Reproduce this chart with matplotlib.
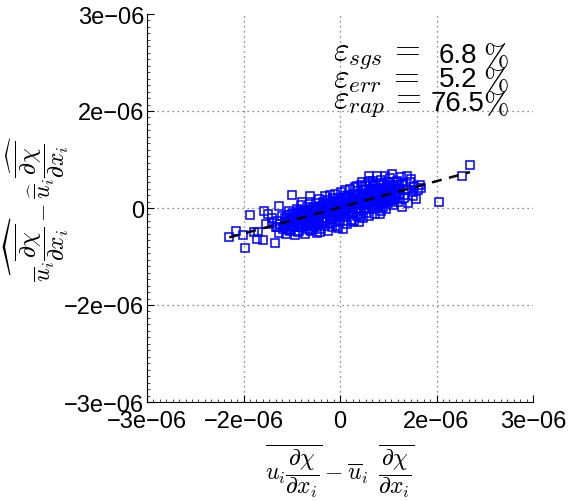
import numpy as np
import matplotlib.pyplot as plt
from matplotlib.ticker import FixedLocator, MultipleLocator

plt.rcParams['mathtext.fontset'] = 'cm'
plt.rcParams['font.family'] = ['Liberation Sans', 'DejaVu Sans']

# scatter values, in units of 1e-6
x_core = [-1.00, -0.98, -0.95, -0.93, -0.90, -0.88, -0.86, -0.84, -0.82, -0.80,
          -0.79, -0.77, -0.75, -0.74, -0.72, -0.70, -0.69, -0.67, -0.66, -0.64, -0.62, -0.61, -0.60,
          -0.59, -0.58, -0.56, -0.55, -0.54, -0.52, -0.51, -0.50, -0.48, -0.47, -0.46, -0.45, -0.44, -0.43, -0.42, -0.41,
          -0.40, -0.39, -0.38, -0.37, -0.36, -0.35, -0.34, -0.33, -0.32, -0.31, -0.30, -0.29, -0.28, -0.27, -0.26, -0.25, -0.24, -0.23, -0.22, -0.21,
          -0.20, -0.19, -0.18, -0.17, -0.16, -0.15, -0.14, -0.13, -0.12, -0.11, -0.10, -0.09, -0.08, -0.07, -0.06, -0.05, -0.04, -0.03, -0.02, -0.01,
          0.00, 0.01, 0.02, 0.03, 0.04, 0.05, 0.06, 0.07, 0.08, 0.09, 0.10, 0.11, 0.12, 0.13, 0.14, 0.15, 0.16, 0.17, 0.18, 0.19,
          0.20, 0.21, 0.22, 0.23, 0.24, 0.25, 0.26, 0.27, 0.28, 0.29, 0.30, 0.31, 0.32, 0.33, 0.34, 0.35, 0.36, 0.37, 0.38, 0.39,
          0.40, 0.41, 0.42, 0.43, 0.44, 0.45, 0.46, 0.47, 0.48, 0.49, 0.50, 0.51, 0.52, 0.53, 0.54, 0.55, 0.56, 0.57, 0.58, 0.59,
          0.60, 0.61, 0.62, 0.63, 0.64, 0.65, 0.66, 0.67, 0.68, 0.69, 0.70, 0.71, 0.72, 0.73, 0.74, 0.75, 0.76, 0.77, 0.78, 0.79,
          0.80, 0.82, 0.84, 0.86, 0.88, 0.90, 0.92, 0.94, 0.96, 0.98,
          1.00, 1.03, 1.06, 1.09, 1.12, 1.15, 1.18, 1.22, 1.25]
y_core = [-0.30, -0.20, -0.38, -0.25, -0.12, -0.33, -0.22, -0.40, -0.15, -0.28,
          -0.05, -0.35, -0.20, -0.10, -0.30, -0.42, -0.16, -0.02, -0.25, -0.36, -0.12, -0.20, 0.05,
          -0.30, -0.18, -0.08, -0.40, -0.25, 0.02, -0.14, -0.32, -0.05, -0.22, 0.10, -0.36, -0.12, -0.28, 0.00, -0.18,
          -0.08, -0.30, 0.08, -0.20, -0.02, -0.38, -0.12, 0.14, -0.25, -0.06, 0.03, -0.32, -0.15, 0.10, -0.22, -0.04, 0.18, -0.28, -0.10, 0.05,
          -0.18, 0.12, -0.35, -0.02, 0.20, -0.24, -0.08, 0.06, -0.30, 0.15, -0.14, 0.00, -0.22, 0.22, -0.05, 0.09, -0.28, -0.12, 0.16, 0.03,
          -0.20, 0.25, -0.06, 0.10, -0.32, 0.02, 0.18, -0.14, 0.28, -0.02, 0.12, -0.25, 0.06, 0.20, -0.10, 0.00, 0.30, -0.18, 0.14, 0.05,
          -0.08, 0.22, -0.20, 0.10, 0.32, -0.02, 0.16, -0.12, 0.26, 0.04, -0.22, 0.12, 0.36, -0.05, 0.20, 0.07, -0.15, 0.28, 0.00, 0.15,
          0.34, -0.08, 0.18, 0.05, 0.40, -0.12, 0.24, 0.10, 0.30, -0.02, 0.16, 0.42, 0.02, 0.22, -0.10, 0.35, 0.12, 0.27, 0.00, 0.19,
          0.38, 0.06, 0.25, -0.04, 0.44, 0.14, 0.30, 0.02, 0.20, 0.36, 0.10, 0.26, -0.02, 0.40, 0.17, 0.08, 0.32, 0.22, 0.46, 0.12,
          0.28, 0.05, 0.36, 0.18, 0.42, 0.10, 0.30, 0.22, 0.02, 0.38,
          0.16, 0.30, 0.08, 0.40, 0.24, 0.34, 0.14, 0.28, 0.36]

# denser points near the centre of the cloud
x_dense = [-0.85, -0.82, -0.79, -0.76, -0.73, -0.70, -0.67, -0.64, -0.61, -0.58, -0.55, -0.52, -0.49, -0.46, -0.43,
           -0.40, -0.37, -0.34, -0.31, -0.28, -0.25, -0.22, -0.19, -0.16, -0.13, -0.10, -0.07, -0.04, -0.01, 0.02,
           0.05, 0.08, 0.11, 0.14, 0.17, 0.20, 0.23, 0.26, 0.29, 0.32, 0.35, 0.38, 0.41, 0.44, 0.47,
           0.50, 0.53, 0.56, 0.59, 0.62, 0.65, 0.68, 0.71, 0.74, 0.77, 0.80, 0.83, 0.86, 0.89, 0.92]
y_dense_a = [-0.15, -0.32, -0.18, -0.26, -0.08, -0.21, -0.12, -0.29, -0.15, -0.06, -0.22, -0.10, -0.24, -0.03, -0.15,
             0.02, -0.18, -0.07, -0.01, -0.21, -0.02, -0.10, 0.06, -0.13, -0.04, 0.11, -0.08, 0.07, -0.12, 0.04,
             0.11, -0.03, 0.15, -0.06, 0.11, 0.04, 0.19, -0.01, 0.12, -0.02, 0.18, 0.07, 0.22, 0.05, 0.15,
             0.28, 0.05, 0.20, 0.12, 0.27, 0.06, 0.25, 0.17, 0.32, 0.15, 0.25, 0.12, 0.31, 0.25, 0.20]
y_dense_b = [-0.29, -0.11, -0.34, -0.17, -0.28, -0.10, -0.19, -0.04, -0.26, -0.14, -0.07, -0.26, -0.07, -0.16, -0.01,
             -0.18, -0.07, -0.23, 0.02, -0.08, -0.16, 0.06, -0.08, 0.03, -0.17, -0.01, 0.07, -0.09, 0.05, -0.10,
             0.01, 0.15, -0.04, 0.08, -0.07, 0.15, 0.04, 0.13, -0.01, 0.21, 0.04, 0.18, -0.02, 0.15, 0.23,
             0.08, 0.26, 0.05, 0.23, 0.15, 0.29, 0.10, 0.23, 0.09, 0.30, 0.19, 0.34, 0.16, 0.29, 0.35]

x_out = [2.02, 1.89, 1.54, 1.26, 1.13, 1.04, 0.81, 0.57, 0.45, 0.89, 1.06, -0.75, -0.95, -1.40,
         -1.72, -1.61, -1.48, -1.51, -1.29, -1.27, -1.20, -1.01, -1.12, -1.06, -0.03, -0.31,
         0.31, 0.19, -0.65, -0.47, 0.81, 0.78, 0.47, 0.51, 0.26, 0.34, -0.47, -0.59,
         -1.33, -1.18, -0.98, -1.15, -1.05, 0.95, 1.10, 0.70, 0.62]
y_out = [0.66, 0.49, 0.09, 0.31, 0.19, 0.49, 0.53, 0.49, 0.49, 0.40, 0.28, 0.20, 0.03, -0.11,
         -0.45, -0.36, -0.62, -0.42, -0.48, -0.37, -0.49, -0.54, -0.09, -0.23, -0.31, -0.37,
         -0.14, -0.22, -0.37, -0.34, 0.12, 0.25, 0.42, 0.34, 0.34, 0.40, 0.19, 0.09,
         -0.37, -0.05, -0.30, -0.25, -0.15, 0.48, 0.45, 0.50, -0.10]

# least squares line (units of 1e-6)
fit_slope = 0.27
fit_icpt = 0.01

tick_vals = [-3e-6, -1.5e-6, 0, 1.5e-6, 3e-6]
tick_labels = ['\u22123e\u221206', '\u22122e\u221206', '0', '2e\u221206', '3e\u221206']

eps_names = ['sgs', 'err', 'rap']
eps_vals = ['6.8', '5.2', '76.5']

xs = np.array(x_core + x_dense + x_dense + x_out) * 1e-6
ys = np.array(y_core + y_dense_a + y_dense_b + y_out) * 1e-6

fig = plt.figure(figsize=(5.68, 5.02), dpi=100)
ax = fig.add_axes([147/568, 99/502, 386/568, 388/502])

# grid on the inner ticks only
for v in tick_vals[1:-1]:
    ax.axvline(v, color='#666666', lw=0.9, ls=(0, (1, 3)), zorder=0)
    ax.axhline(v, color='#666666', lw=0.9, ls=(0, (1, 3)), zorder=0)

ax.plot(xs, ys, 's', mfc='none', mec='#0000ff', ms=5.2, mew=1.1)
xx = np.array([xs.min(), xs.max()])
ax.plot(xx, fit_slope * xx + fit_icpt * 1e-6, '--', color='black', lw=1.8, dashes=(4, 3))

ax.set_xlim(-3e-6, 3e-6)
ax.set_ylim(-3e-6, 3e-6)
ax.xaxis.set_major_locator(FixedLocator(tick_vals))
ax.yaxis.set_major_locator(FixedLocator(tick_vals))
ax.set_xticklabels(tick_labels)
ax.set_yticklabels(tick_labels)
ax.xaxis.set_minor_locator(MultipleLocator(0.1e-6))
ax.yaxis.set_minor_locator(MultipleLocator(0.1e-6))
ax.tick_params(which='major', direction='in', length=5, labelsize=17)
ax.tick_params(axis='x', which='major', pad=6)
ax.tick_params(axis='y', which='major', pad=2)
ax.tick_params(which='minor', direction='in', length=2, width=0.5)
ax.tick_params(top=False, right=False, which='both')
ax.spines['top'].set_visible(False)
ax.spines['right'].set_visible(False)

ax.set_xlabel(r'$\overline{u_i\dfrac{\partial\chi}{\partial x_i}} - \overline{u}_i\;\,\overline{\dfrac{\partial\chi}{\partial x_i}}$',
              fontsize=17, va='center', ha='center')
ax.xaxis.set_label_coords(0.5, -0.175, transform=ax.transAxes)
ax.set_ylabel(r'$\widehat{\overline{u}_i\overline{\dfrac{\partial\chi}{\partial x_i}}} - \widehat{\overline{u}}_i\widehat{\overline{\dfrac{\partial\chi}{\partial x_i}}}$',
              fontsize=17, va='center', ha='center')
ax.yaxis.set_label_coords(-0.285, 0.5, transform=ax.transAxes)

for k in range(3):
    yk = 0.895 - k * 0.062
    ax.text(0.483, yk, r'$\varepsilon_{%s}\, =$' % eps_names[k], transform=ax.transAxes,
            fontsize=24, va='center', ha='left')
    ax.text(0.805, yk, eps_vals[k], transform=ax.transAxes, fontsize=20, va='center', ha='center')
    ax.text(0.87, yk - 0.006, r'$\%$', transform=ax.transAxes, fontsize=22, va='center', ha='left')

fig.savefig('out.png', dpi=100)
